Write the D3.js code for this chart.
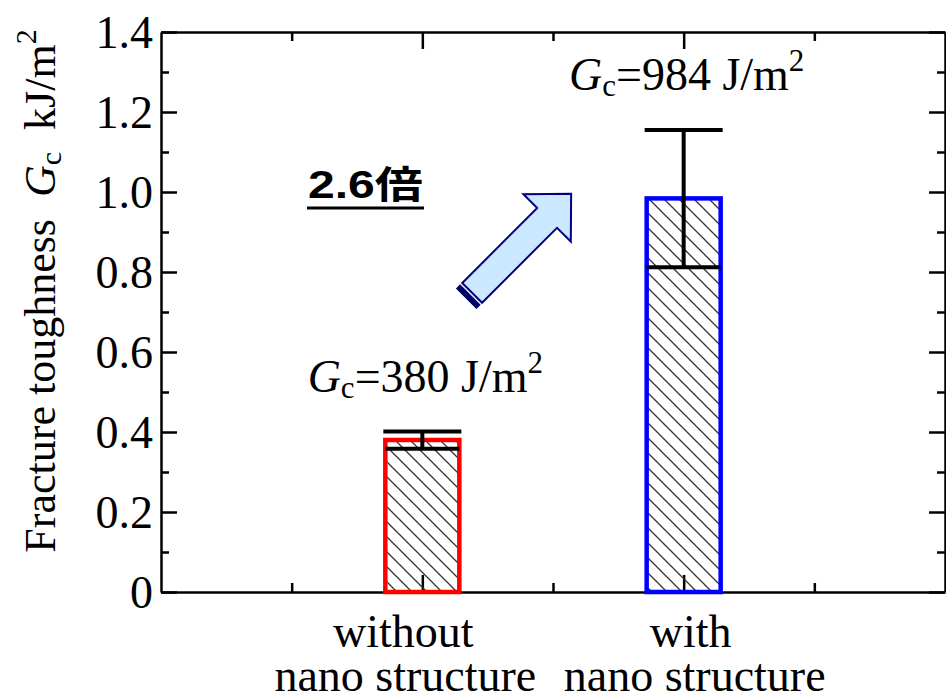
<html>
<head>
<style>
body{margin:0;background:#fff;}
svg{display:block;}
</style>
<script src="https://d3js.org/d3.v7.min.js"></script>
</head>
<body>
<svg id="chart" width="946" height="699"></svg>
<script>
// data
const catLine1 = ["without", "with"];
const catLine2 = ["nano structure", "nano structure"];
const gcValues = [0.380, 0.984];
const errLow = [0.358, 0.812];
const errHigh = [0.401, 1.155];
const gcLabels = ["380", "984"];
const barColors = ["#ff0000", "#0000ff"];
const yMajor = [0, 0.2, 0.4, 0.6, 0.8, 1.0, 1.2, 1.4];
const yMinor = [0.1, 0.3, 0.5, 0.7, 0.9, 1.1, 1.3];
const yTickLabels = ["0", "0.2", "0.4", "0.6", "0.8", "1.0", "1.2", "1.4"];
const ratioNum = "2.6", ratioUnit = "倍";

const serif = "'Liberation Serif','Times New Roman',serif";
const svg = d3.select("#chart");
const pLeft = 161, pRight = 945, pTop = 32, pBottom = 592;

const x = d3.scaleLinear().domain([0, 3]).range([pLeft, pRight]);
const y = d3.scaleLinear().domain([0, 1.4]).range([pBottom, pTop]);

// hatch pattern
const defs = svg.append("defs");
const pat = defs.append("pattern").attr("id", "hatch")
  .attr("patternUnits", "userSpaceOnUse").attr("width", 15).attr("height", 15);
pat.append("path").attr("d", "M-4,-4 L19,19 M-4,11 L4,19 M11,-4 L19,4")
  .attr("stroke", "#333").attr("stroke-width", 1.3);

// axes
function styleAxis(g) {
  g.selectAll("path.domain").attr("stroke", "#000").attr("stroke-width", 2.5);
  g.selectAll(".tick line").attr("stroke", "#000").attr("stroke-width", 2.5);
}
const labelFmt = d => yTickLabels[yMajor.indexOf(d)];

const gl = svg.append("g").attr("transform", "translate(" + pLeft + ",0)")
  .call(d3.axisLeft(y).tickValues(yMajor).tickSize(-16).tickSizeOuter(0).tickPadding(8).tickFormat(labelFmt));
gl.append("g").call(d3.axisLeft(y).tickValues(yMinor).tickSize(-8).tickFormat(""))
  .select("path.domain").remove();
gl.attr("font-family", serif);
gl.selectAll("text").attr("font-size", 46).attr("font-family", serif).attr("fill", "#000").attr("dy", "0.34em");

const gr = svg.append("g").attr("transform", "translate(" + pRight + ",0)")
  .call(d3.axisRight(y).tickValues(yMajor).tickSize(-16).tickSizeOuter(0).tickFormat(""));
gr.append("g").call(d3.axisRight(y).tickValues(yMinor).tickSize(-8).tickFormat(""))
  .select("path.domain").remove();

const gb = svg.append("g").attr("transform", "translate(0," + pBottom + ")")
  .call(d3.axisBottom(x).tickValues([1, 2]).tickSize(-17).tickSizeOuter(0).tickFormat(""));
gb.append("g").call(d3.axisBottom(x).tickValues([0.5, 1.5, 2.5]).tickSize(-9).tickFormat(""))
  .select("path.domain").remove();

const gt = svg.append("g").attr("transform", "translate(0," + pTop + ")")
  .call(d3.axisTop(x).tickValues([1, 2]).tickSize(-17).tickSizeOuter(0).tickFormat(""));
gt.append("g").call(d3.axisTop(x).tickValues([0.5, 1.5, 2.5]).tickSize(-9).tickFormat(""))
  .select("path.domain").remove();

[gl, gr, gb, gt].forEach(styleAxis);

// bars
const barW = 74;
svg.selectAll(".bar").data(gcValues).enter().append("rect")
  .attr("class", "bar")
  .attr("x", (d, i) => x(i + 1) - barW / 2)
  .attr("y", d => y(d))
  .attr("width", barW)
  .attr("height", d => y(0) - y(d))
  .attr("fill", "url(#hatch)")
  .attr("stroke", (d, i) => barColors[i])
  .attr("stroke-width", 4.5);

// error bars
const eb = svg.selectAll(".err").data(gcValues).enter().append("g").attr("class", "err")
  .attr("stroke", "#000").attr("stroke-width", 4);
eb.append("line").attr("x1", (d, i) => x(i + 1)).attr("x2", (d, i) => x(i + 1))
  .attr("y1", (d, i) => y(errLow[i])).attr("y2", (d, i) => y(errHigh[i]));
eb.append("line").attr("x1", (d, i) => x(i + 1) - 39).attr("x2", (d, i) => x(i + 1) + 39)
  .attr("y1", (d, i) => y(errHigh[i])).attr("y2", (d, i) => y(errHigh[i]));
eb.append("line").attr("x1", (d, i) => x(i + 1) - 37).attr("x2", (d, i) => x(i + 1) + 37)
  .attr("y1", (d, i) => y(errLow[i])).attr("y2", (d, i) => y(errLow[i]));

// Gc annotations
const ann = svg.selectAll(".ann").data(gcValues).enter().append("text").attr("class", "ann")
  .attr("x", (d, i) => x(i + 1) + 3)
  .attr("y", (d, i) => y(errHigh[i]) - 40)
  .attr("text-anchor", "middle").attr("font-size", 46).attr("font-family", serif)
  .style("white-space", "pre");
ann.append("tspan").attr("font-style", "italic").text("G");
ann.append("tspan").attr("font-size", 31).attr("dy", 6).text("c");
ann.append("tspan").attr("dy", -6).text((d, i) => "=" + gcLabels[i] + " J/m");
ann.append("tspan").attr("font-size", 31).attr("dy", -19).text("2");

// category labels
const cat = svg.selectAll(".cat").data(catLine1).enter().append("g").attr("class", "cat")
  .attr("font-family", serif).attr("font-size", 46).attr("text-anchor", "middle");
cat.append("text").attr("x", (d, i) => x(i + 1) + (i === 0 ? -19 : 7)).attr("y", 647).text(d => d);
cat.append("text").attr("x", (d, i) => x(i + 1) + (i === 0 ? -17 : 11)).attr("y", 691).text((d, i) => catLine2[i]);

// y axis title
const yt = svg.append("text").attr("transform", "translate(55,291) rotate(-90)")
  .attr("text-anchor", "middle").attr("font-size", 44).attr("font-family", serif)
  .style("white-space", "pre");
yt.append("tspan").text("Fracture toughness  ");
yt.append("tspan").attr("font-style", "italic").text("G");
yt.append("tspan").attr("font-size", 30).attr("dy", 6).text("c");
yt.append("tspan").attr("dy", -6).text("  kJ/m");
yt.append("tspan").attr("font-size", 30).attr("dy", -19).text("2");

// ratio label with underline
const rl = svg.append("text").attr("x", 308).attr("y", 198)
  .attr("font-weight", "bold").attr("font-size", 38)
  .attr("textLength", 115).attr("lengthAdjust", "spacingAndGlyphs");
rl.append("tspan").attr("font-family", "'Liberation Sans',Arial,sans-serif").text(ratioNum);
rl.append("tspan").attr("font-family", "'Noto Sans CJK JP',sans-serif").text(ratioUnit);
svg.append("line").attr("x1", 307).attr("x2", 424).attr("y1", 208).attr("y2", 208)
  .attr("stroke", "#000").attr("stroke-width", 3);

// arrow
const arrow = svg.append("g").attr("transform", "translate(466.5,298.5) rotate(-45)");
const L = 148, hw = 14, headW = 33.5, headL = 34;
arrow.append("rect").attr("x", 0).attr("y", -hw).attr("width", 5).attr("height", hw * 2)
  .attr("fill", "#000066").attr("stroke", "#000066").attr("stroke-width", 1);
arrow.append("path")
  .attr("d", "M8," + (-hw) + " L" + (L - headL) + "," + (-hw) + " L" + (L - headL) + "," + (-headW) +
    " L" + L + ",0 L" + (L - headL) + "," + headW + " L" + (L - headL) + "," + hw + " L8," + hw + " Z")
  .attr("fill", "#cce8ff").attr("stroke", "#000080").attr("stroke-width", 2);
</script>
</body>
</html>
